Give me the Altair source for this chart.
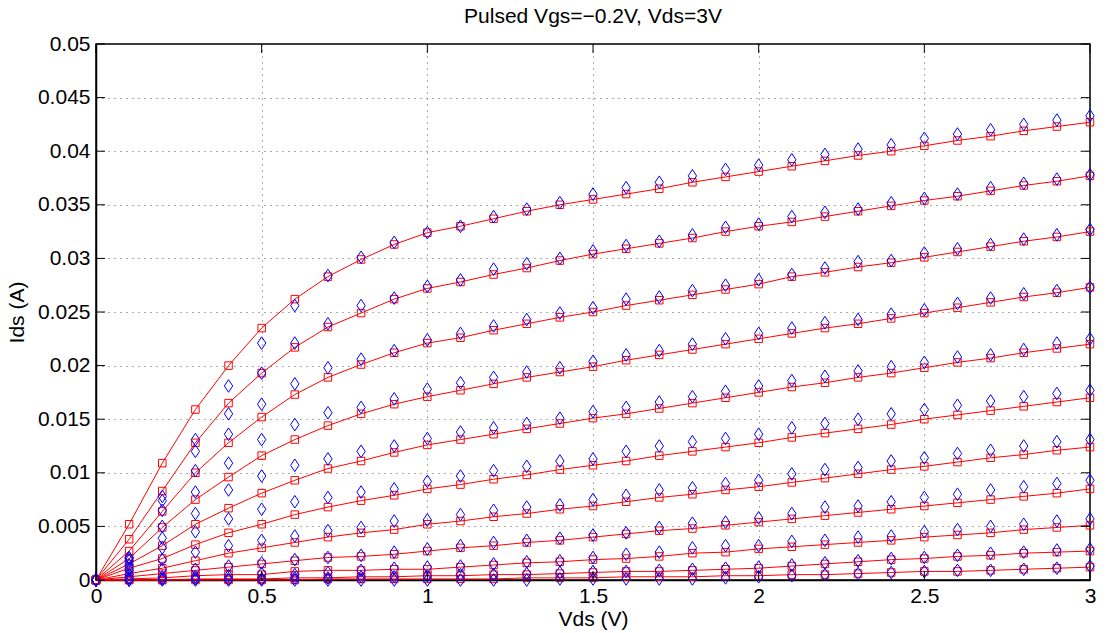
import altair as alt
import pandas as pd

vds = [0.0, 0.1, 0.2, 0.3, 0.4, 0.5, 0.6, 0.7, 0.8, 0.9, 1.0, 1.1, 1.2, 1.3, 1.4, 1.5,
       1.6, 1.7, 1.8, 1.9, 2.0, 2.1, 2.2, 2.3, 2.4, 2.5, 2.6, 2.7, 2.8, 2.9, 3.0]

# model curves (red squares + line)
model = [
    [0, 0.0052, 0.0109, 0.0159, 0.0200, 0.0235, 0.0262, 0.0283, 0.0299, 0.0313, 0.0324, 0.0330, 0.0337, 0.0344, 0.0350, 0.0355,
     0.0360, 0.0365, 0.0371, 0.0376, 0.0381, 0.0386, 0.0391, 0.0396, 0.0400, 0.0405, 0.0410, 0.0414, 0.0419, 0.0423, 0.0427],
    [0, 0.0038, 0.0083, 0.0128, 0.0165, 0.0193, 0.0217, 0.0236, 0.0249, 0.0262, 0.0272, 0.0278, 0.0285, 0.0291, 0.0298, 0.0304,
     0.0309, 0.0314, 0.0319, 0.0325, 0.0330, 0.0334, 0.0339, 0.0344, 0.0349, 0.0354, 0.0358, 0.0363, 0.0368, 0.0372, 0.0377],
    [0, 0.0027, 0.0064, 0.0100, 0.0128, 0.0152, 0.0173, 0.0189, 0.0201, 0.0212, 0.0221, 0.0226, 0.0233, 0.0239, 0.0245, 0.0250,
     0.0256, 0.0261, 0.0266, 0.0271, 0.0276, 0.0283, 0.0287, 0.0292, 0.0296, 0.0301, 0.0306, 0.0311, 0.0316, 0.0320, 0.0325],
    [0, 0.0020, 0.0049, 0.0075, 0.0096, 0.0116, 0.0131, 0.0144, 0.0155, 0.0164, 0.0171, 0.0177, 0.0183, 0.0189, 0.0194, 0.0199,
     0.0205, 0.0210, 0.0215, 0.0220, 0.0225, 0.0230, 0.0235, 0.0239, 0.0244, 0.0249, 0.0254, 0.0259, 0.0264, 0.0268, 0.0273],
    [0, 0.0015, 0.0032, 0.0052, 0.0067, 0.0081, 0.0093, 0.0104, 0.0111, 0.0119, 0.0126, 0.0131, 0.0136, 0.0141, 0.0146, 0.0151,
     0.0155, 0.0160, 0.0165, 0.0170, 0.0175, 0.0180, 0.0184, 0.0189, 0.0193, 0.0198, 0.0203, 0.0207, 0.0212, 0.0216, 0.0220],
    [0, 0.0011, 0.0020, 0.0033, 0.0044, 0.0052, 0.0061, 0.0068, 0.0074, 0.0079, 0.0085, 0.0089, 0.0094, 0.0098, 0.0103, 0.0107,
     0.0111, 0.0116, 0.0120, 0.0124, 0.0128, 0.0133, 0.0137, 0.0141, 0.0145, 0.0150, 0.0154, 0.0158, 0.0162, 0.0166, 0.0170],
    [0, 0.0006, 0.0011, 0.0018, 0.0025, 0.0030, 0.0035, 0.0040, 0.0044, 0.0047, 0.0052, 0.0055, 0.0059, 0.0062, 0.0066, 0.0069,
     0.0073, 0.0077, 0.0080, 0.0084, 0.0087, 0.0091, 0.0095, 0.0099, 0.0103, 0.0106, 0.0110, 0.0114, 0.0117, 0.0121, 0.0124],
    [0, 0.0003, 0.0006, 0.0009, 0.0012, 0.0015, 0.0018, 0.0021, 0.0022, 0.0024, 0.0027, 0.0030, 0.0032, 0.0035, 0.0037, 0.0040,
     0.0043, 0.0046, 0.0048, 0.0051, 0.0054, 0.0057, 0.0060, 0.0063, 0.0066, 0.0069, 0.0072, 0.0075, 0.0078, 0.0081, 0.0085],
    [0, 0.0001, 0.0002, 0.0004, 0.0005, 0.0005, 0.0008, 0.0009, 0.0009, 0.0010, 0.0010, 0.0012, 0.0014, 0.0016, 0.0017, 0.0019,
     0.0020, 0.0022, 0.0025, 0.0026, 0.0029, 0.0031, 0.0033, 0.0035, 0.0037, 0.0040, 0.0042, 0.0044, 0.0047, 0.0049, 0.0051],
    [0, 0, 0, 0.0001, 0.0001, 0.0001, 0.0002, 0.0002, 0.0003, 0.0003, 0.0004, 0.0004, 0.0005, 0.0005, 0.0006, 0.0007,
     0.0008, 0.0008, 0.0009, 0.0010, 0.0011, 0.0013, 0.0015, 0.0017, 0.0019, 0.0020, 0.0022, 0.0023, 0.0025, 0.0026, 0.0027],
    [0, 0, 0, 0, 0, 0, 0, 0.0001, 0.0001, 0.0001, 0.0001, 0.0001, 0.0001, 0.0002, 0.0002, 0.0002,
     0.0003, 0.0003, 0.0003, 0.0004, 0.0004, 0.0005, 0.0005, 0.0006, 0.0007, 0.0008, 0.0008, 0.0009, 0.0010, 0.0011, 0.0012],
]

# measured (blue diamonds)
measured = [
    [0, 0.0021, 0.0078, 0.0131, 0.0181, 0.0221, 0.0256, 0.0284, 0.0301, 0.0315, 0.0324, 0.0330, 0.0339, 0.0346, 0.0352, 0.0360,
     0.0366, 0.0371, 0.0377, 0.0383, 0.0387, 0.0392, 0.0397, 0.0402, 0.0406, 0.0412, 0.0416, 0.0420, 0.0425, 0.0429, 0.0433],
    [0, 0.0020, 0.0074, 0.0120, 0.0155, 0.0193, 0.0221, 0.0239, 0.0256, 0.0263, 0.0274, 0.0280, 0.0290, 0.0295, 0.0300, 0.0307,
     0.0312, 0.0316, 0.0322, 0.0329, 0.0332, 0.0339, 0.0343, 0.0346, 0.0352, 0.0356, 0.0360, 0.0366, 0.0370, 0.0374, 0.0378],
    [0, 0.0018, 0.0065, 0.0102, 0.0136, 0.0164, 0.0183, 0.0198, 0.0206, 0.0214, 0.0224, 0.0230, 0.0237, 0.0243, 0.0249, 0.0254,
     0.0262, 0.0264, 0.0270, 0.0275, 0.0280, 0.0285, 0.0291, 0.0297, 0.0298, 0.0305, 0.0309, 0.0313, 0.0318, 0.0322, 0.0327],
    [0, 0.0014, 0.0050, 0.0082, 0.0109, 0.0131, 0.0145, 0.0156, 0.0161, 0.0169, 0.0178, 0.0184, 0.0189, 0.0194, 0.0198, 0.0204,
     0.0210, 0.0214, 0.0220, 0.0225, 0.0230, 0.0235, 0.0240, 0.0243, 0.0248, 0.0252, 0.0258, 0.0263, 0.0267, 0.0270, 0.0273],
    [0, 0.0011, 0.0039, 0.0062, 0.0084, 0.0097, 0.0107, 0.0113, 0.0120, 0.0125, 0.0132, 0.0138, 0.0142, 0.0146, 0.0151, 0.0157,
     0.0161, 0.0166, 0.0171, 0.0176, 0.0181, 0.0186, 0.0190, 0.0195, 0.0199, 0.0203, 0.0208, 0.0210, 0.0215, 0.0221, 0.0225],
    [0, 0.0009, 0.0030, 0.0045, 0.0057, 0.0066, 0.0073, 0.0077, 0.0082, 0.0085, 0.0092, 0.0097, 0.0102, 0.0106, 0.0111, 0.0113,
     0.0120, 0.0125, 0.0129, 0.0132, 0.0136, 0.0142, 0.0146, 0.0150, 0.0155, 0.0159, 0.0163, 0.0167, 0.0171, 0.0174, 0.0177],
    [0, 0.0005, 0.0019, 0.0026, 0.0032, 0.0037, 0.0041, 0.0046, 0.0049, 0.0055, 0.0056, 0.0061, 0.0065, 0.0068, 0.0070, 0.0075,
     0.0079, 0.0084, 0.0086, 0.0090, 0.0093, 0.0099, 0.0103, 0.0105, 0.0111, 0.0114, 0.0118, 0.0121, 0.0125, 0.0129, 0.0131],
    [0, 0.0002, 0.0010, 0.0010, 0.0013, 0.0016, 0.0019, 0.0021, 0.0023, 0.0026, 0.0029, 0.0032, 0.0035, 0.0037, 0.0039, 0.0042,
     0.0044, 0.0049, 0.0053, 0.0054, 0.0058, 0.0062, 0.0068, 0.0069, 0.0073, 0.0077, 0.0080, 0.0084, 0.0087, 0.0090, 0.0093],
    [0, 0, 0.0003, 0.0003, 0.0004, 0.0006, 0.0005, 0.0007, 0.0009, 0.0011, 0.0012, 0.0013, 0.0015, 0.0017, 0.0018, 0.0021,
     0.0024, 0.0026, 0.0030, 0.0032, 0.0032, 0.0036, 0.0037, 0.0040, 0.0041, 0.0045, 0.0047, 0.0050, 0.0052, 0.0055, 0.0057],
    [0, 0, 0.0001, 0.0001, 0.0001, 0.0001, 0.0002, 0.0002, 0.0003, 0.0003, 0.0004, 0.0005, 0.0005, 0.0006, 0.0007, 0.0008,
     0.0008, 0.0009, 0.0010, 0.0011, 0.0012, 0.0014, 0.0016, 0.0018, 0.0020, 0.0021, 0.0023, 0.0025, 0.0026, 0.0028, 0.0029],
    [0, 0, 0, 0, 0, 0, 0, 0, 0, 0, 0, 0, 0, 0, 0.0001, 0.0001,
     0.0001, 0.0001, 0.0001, 0.0002, 0.0003, 0.0004, 0.0005, 0.0006, 0.0007, 0.0008, 0.0009, 0.0009, 0.0010, 0.0011, 0.0013],
]

x_ticks = [0, 0.5, 1, 1.5, 2, 2.5, 3]
y_ticks = [0, 0.005, 0.01, 0.015, 0.02, 0.025, 0.03, 0.035, 0.04, 0.045, 0.05]

title_text = "Pulsed Vgs=\u22120.2V, Vds=3V"
FONT = "Liberation Sans"
FS = 21
W, H = 994, 536
TICK = 9

rows = []
for ci, (m, b) in enumerate(zip(model, measured)):
    for v, y in zip(vds, m):
        rows.append({"vds": v, "ids": y, "curve": ci, "kind": "model"})
    for v, y in zip(vds, b):
        rows.append({"vds": v, "ids": y, "curve": ci, "kind": "meas"})
df = pd.DataFrame(rows)
ydf = pd.DataFrame({"vds": [0.0] * len(y_ticks), "ids": y_ticks})
xdf = pd.DataFrame({"vds": x_ticks, "ids": [0.0] * len(x_ticks)})

xs = alt.Scale(domain=[0, 3], nice=False, zero=False)
ys = alt.Scale(domain=[0, 0.05], nice=False, zero=False)

common = dict(ticks=False, domain=True, domainColor="black", domainWidth=1.5, grid=True,
              gridDash=[1, 5], gridColor="#222", gridOpacity=0.75, gridWidth=1,
              labelFont=FONT, labelFontSize=FS, labelColor="black", labelFlush=False,
              titleFont=FONT, titleFontSize=FS, titleFontWeight="normal", titleColor="black")
x_axis = alt.Axis(values=x_ticks, format="~g", title="Vds (V)", labelPadding=5, titlePadding=2, **common)
y_axis = alt.Axis(values=y_ticks, format="~g", title="Ids (A)", labelPadding=6, titlePadding=10, **common)

X = alt.X("vds:Q", scale=xs, axis=x_axis)
Y = alt.Y("ids:Q", scale=ys, axis=y_axis)

base = alt.Chart(df)
lines = base.transform_filter(alt.datum.kind == "model").mark_line(
    color="#ff0000", strokeWidth=1).encode(x=X, y=Y, detail="curve:N", order="vds:Q")
squares = base.transform_filter(alt.datum.kind == "model").mark_point(
    shape="square", filled=False, color="#ff0000", size=56, strokeWidth=1, opacity=1).encode(x=X, y=Y)
diamond = "M0,-1L0.66,0L0,1L-0.66,0Z"
diamonds = base.transform_filter(alt.datum.kind == "meas").mark_point(
    shape=diamond, filled=False, color="#0000ff", size=160, strokeWidth=1, opacity=1).encode(x=X, y=Y)

ytl = alt.Chart(ydf).mark_rule(color="black", strokeWidth=1).encode(
    y=Y, x=alt.value(0), x2=alt.value(TICK))
ytr = alt.Chart(ydf).mark_rule(color="black", strokeWidth=1).encode(
    y=Y, x=alt.value(W - TICK), x2=alt.value(W))
xtb = alt.Chart(xdf).mark_rule(color="black", strokeWidth=1).encode(
    x=X, y=alt.value(H - TICK), y2=alt.value(H))
xtt = alt.Chart(xdf).mark_rule(color="black", strokeWidth=1).encode(
    x=X, y=alt.value(0), y2=alt.value(TICK))

chart = alt.layer(lines, squares, diamonds, ytl, ytr, xtb, xtt).properties(
    width=W, height=H,
    title=alt.TitleParams(title_text, font=FONT, fontSize=FS, fontWeight="normal",
                          color="black", anchor="middle", offset=6),
    autosize=alt.AutoSizeParams(type="none"),
    padding={"left": 96, "top": 44, "right": 17, "bottom": 53},
    background="white",
).configure_view(stroke="black", strokeWidth=1.5)

chart.save("out.html", embed_options={"renderer": "svg", "actions": False})
